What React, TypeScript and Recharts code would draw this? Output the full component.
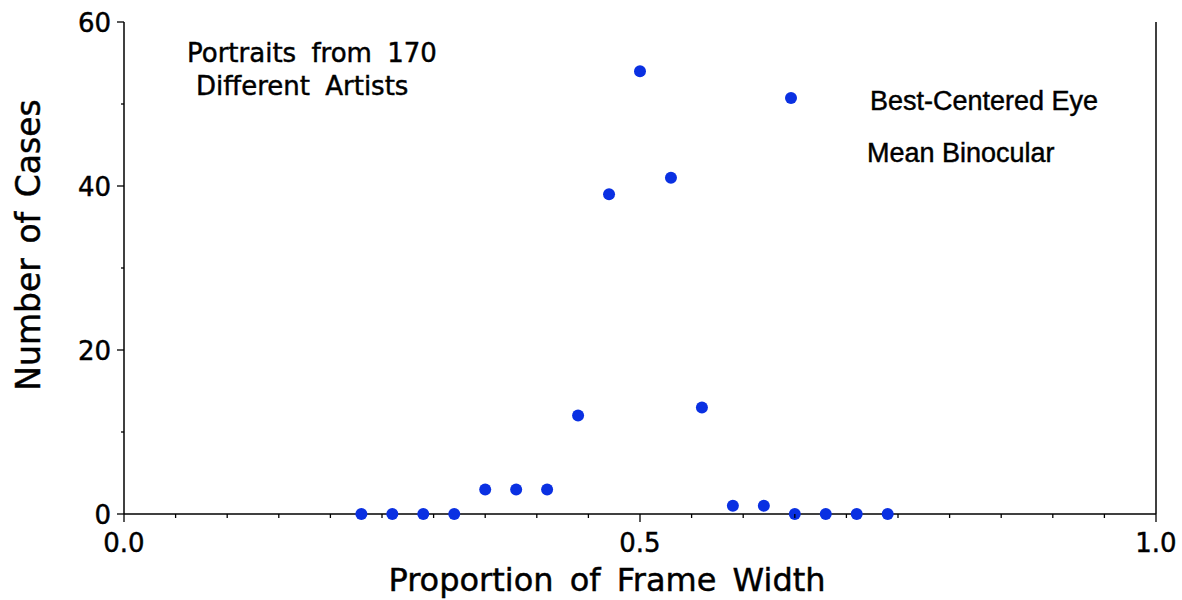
import React from 'react';
import { ScatterChart, Scatter, XAxis, YAxis, Label } from 'recharts';

const proportions = [0.23, 0.26, 0.29, 0.32, 0.35, 0.38, 0.41, 0.44, 0.47, 0.5, 0.53, 0.56, 0.59, 0.62, 0.65, 0.68, 0.71, 0.74];
const cases = [0, 0, 0, 0, 3, 3, 3, 12, 39, 54, 41, 13, 1, 1, 0, 0, 0, 0];
const xTicks = [0, 0.05, 0.1, 0.15, 0.2, 0.25, 0.3, 0.35, 0.4, 0.45, 0.5, 0.55, 0.6, 0.65, 0.7, 0.75, 0.8, 0.85, 0.9, 0.95, 1.0];
const xMajorTicks = [0, 0.5, 1.0];
const yTicks = [0, 10, 20, 30, 40, 50, 60];
const yMajorTicks = [0, 20, 40, 60];

const annotationLines = ['Portraits from 170', 'Different Artists'];
const legendLabels = ['Best-Centered Eye', 'Mean Binocular'];

const data = proportions.map((p, i) => ({ x: p, y: cases[i] }));

const DOT = '#0a30e2';
const FONT = '"DejaVu Sans", sans-serif';
const HEAVY = { stroke: '#000', strokeWidth: 0.45 };

const isMajor = (v: number, majors: number[]) => majors.some((m) => Math.abs(m - v) < 1e-6);

const XTick = (props: any) => {
  const { x, y, payload } = props;
  const major = isMajor(payload.value, xMajorTicks);
  return (
    <g>
      <line x1={x} x2={x} y1={y} y2={y + (major ? 8 : 4)} stroke="#000" strokeWidth={1.3} />
      {major && (
        <text x={x} y={y + 38} textAnchor="middle" fontFamily={FONT} fontSize={26} fill="#000" {...HEAVY}>
          {payload.value.toFixed(1)}
        </text>
      )}
    </g>
  );
};

const YLeftTick = (props: any) => {
  const { x, y, payload } = props;
  const major = isMajor(payload.value, yMajorTicks);
  return (
    <g>
      <line x1={x - (major ? 7 : 3)} x2={x} y1={y} y2={y} stroke="#000" strokeWidth={1.3} />
      {major && (
        <text x={x - 13} y={y + 10} textAnchor="end" fontFamily={FONT} fontSize={26} fill="#000" {...HEAVY}>
          {payload.value}
        </text>
      )}
    </g>
  );
};

const YRightTick = (props: any) => {
  const { x, y, payload } = props;
  const major = isMajor(payload.value, yMajorTicks);
  return <line x1={x} x2={x + (major ? 6 : 3)} y1={y} y2={y} stroke="#000" strokeWidth={1.3} />;
};

const XTitle = (props: any) => {
  const vb = props.viewBox || {};
  const cx = vb.x + vb.width / 2 - 33;
  return (
    <text x={cx} y={591} textAnchor="middle" fontFamily={FONT} fontSize={32} fill="#000" {...HEAVY} style={{ wordSpacing: 6 }}>
      Proportion of Frame Width
    </text>
  );
};

const YTitle = () => (
  <text
    x={40}
    y={245}
    textAnchor="middle"
    transform="rotate(-90, 40, 245)"
    fontFamily={FONT}
    fontSize={33}
    fill="#000"
    {...HEAVY}
    style={{ wordSpacing: 4 }}
  >
    Number of Cases
  </text>
);

const Dot = (props: any) => <circle cx={props.cx} cy={props.cy} r={6} fill={DOT} />;

export default function App() {
  return (
    <div style={{ position: 'absolute', left: 0, top: 0, width: 1182, height: 600, background: '#fff', overflow: 'hidden' }}>
      <ScatterChart width={1182} height={600} margin={{ top: 22, right: 0, bottom: 0, left: 0 }}>
        <XAxis
          xAxisId="bottom"
          type="number"
          dataKey="x"
          domain={[0, 1]}
          ticks={xTicks}
          interval={0}
          height={86}
          tickSize={0}
          tickMargin={0}
          tickLine={false}
          axisLine={{ stroke: '#000', strokeWidth: 1.5 }}
          tick={<XTick />}
        >
          <Label content={<XTitle />} />
        </XAxis>
        <XAxis
          xAxisId="top"
          orientation="top"
          type="number"
          domain={[0, 1]}
          height={0}
          tick={false}
          tickLine={false}
          axisLine={{ stroke: '#000', strokeWidth: 1.5 }}
        />
        <YAxis
          yAxisId="left"
          type="number"
          dataKey="y"
          domain={[0, 60]}
          ticks={yTicks}
          interval={0}
          width={124}
          tickSize={0}
          tickMargin={0}
          tickLine={false}
          axisLine={{ stroke: '#000', strokeWidth: 1.5 }}
          tick={<YLeftTick />}
        >
          <Label content={<YTitle />} />
        </YAxis>
        <YAxis
          yAxisId="right"
          orientation="right"
          type="number"
          domain={[0, 60]}
          ticks={yTicks}
          interval={0}
          width={26}
          tickSize={0}
          tickMargin={0}
          tickLine={false}
          axisLine={{ stroke: '#000', strokeWidth: 1.5 }}
          tick={<YRightTick />}
        />
        <Scatter
          xAxisId="bottom"
          yAxisId="left"
          data={data}
          fill={DOT}
          shape={<Dot />}
          isAnimationActive={false}
        />
      </ScatterChart>

      <div style={{ position: 'absolute', left: 0, top: 0, width: 1182, height: 600, pointerEvents: 'none' }}>
        <svg width={1182} height={600} style={{ position: 'absolute', left: 0, top: 0 }}>
          <text x={187} y={62} fontFamily={FONT} fontSize={26} fill="#000" {...HEAVY} style={{ wordSpacing: 7 }}>
            {annotationLines[0]}
          </text>
          <text x={196} y={95} fontFamily={FONT} fontSize={26} fill="#000" {...HEAVY} style={{ wordSpacing: 7 }}>
            {annotationLines[1]}
          </text>
          <circle cx={791} cy={98} r={6} fill={DOT} />
          <text x={870} y={110} fontFamily='"Liberation Sans", Arial, sans-serif' fontSize={27} fill="#000" {...HEAVY}>
            {legendLabels[0]}
          </text>
          <text x={867} y={162} fontFamily='"Liberation Sans", Arial, sans-serif' fontSize={27} fill="#000" {...HEAVY}>
            {legendLabels[1]}
          </text>
        </svg>
      </div>
    </div>
  );
}
